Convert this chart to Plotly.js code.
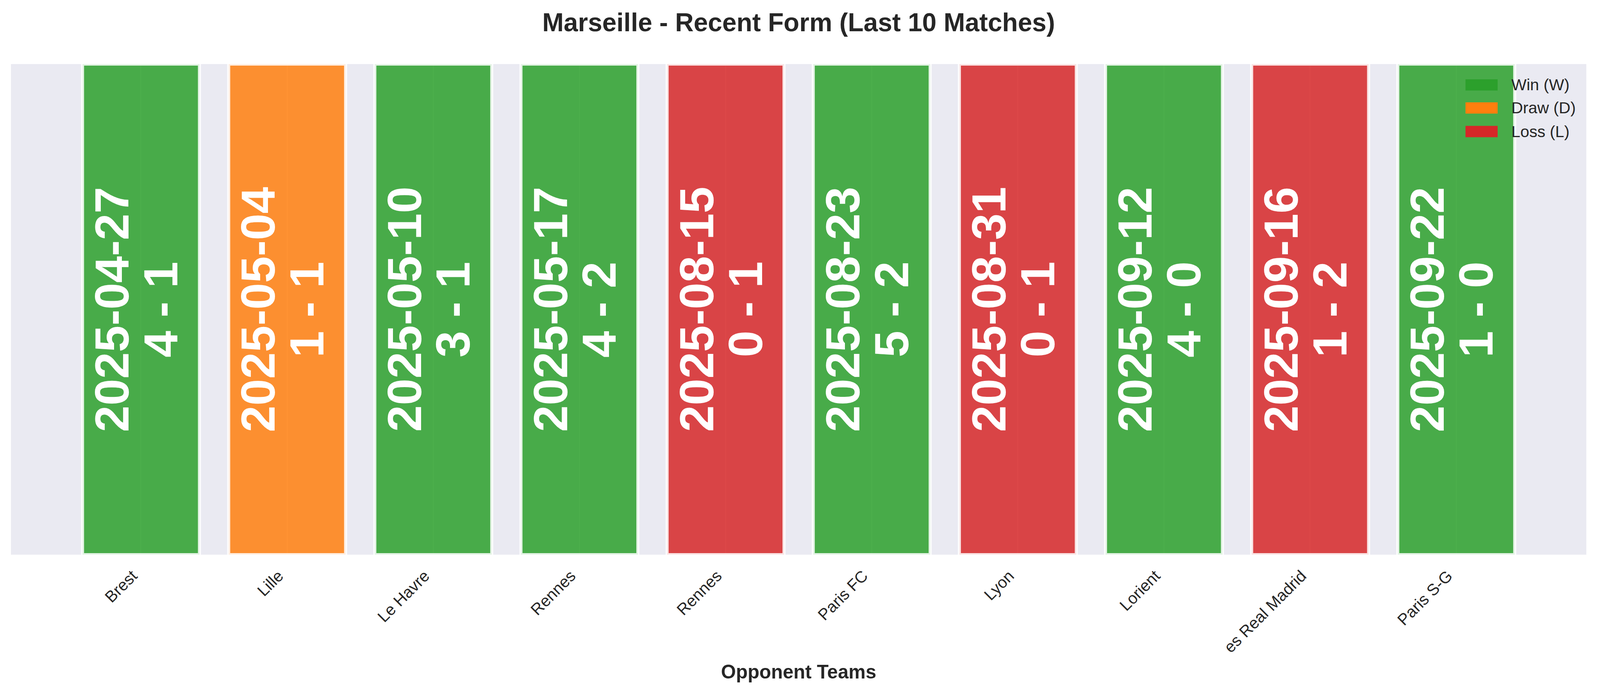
<!DOCTYPE html>
<html>
<head>
<meta charset="utf-8">
<script src="https://cdn.plot.ly/plotly-3.0.1.min.js"></script>
<style>
  html, body { margin: 0; padding: 0; background: #fff; overflow: hidden; }
  #plot { width: 100vw; height: 100vh; }
</style>
</head>
<body>
<div id="plot"></div>
<script>
"use strict";

// ── Data: Marseille's last ten matches, oldest first ──
const opponents = ["Brest", "Lille", "Le Havre", "Rennes", "Rennes",
                   "Paris FC", "Lyon", "Lorient", "es Real Madrid", "Paris S-G"];
const matchDates = ["2025-04-27", "2025-05-04", "2025-05-10", "2025-05-17", "2025-08-15",
                    "2025-08-23", "2025-08-31", "2025-09-12", "2025-09-16", "2025-09-22"];
const scores = ["4 - 1", "1 - 1", "3 - 1", "4 - 2", "0 - 1",
                "5 - 2", "0 - 1", "4 - 0", "1 - 2", "1 - 0"];
const results = ["W", "D", "W", "W", "L", "W", "L", "W", "L", "W"];
const barHeights = [1, 1, 1, 1, 1, 1, 1, 1, 1, 1];

const resultCodes = ["W", "D", "L"];
const resultNames = ["Win (W)", "Draw (D)", "Loss (L)"];

const RESULT_COLORS = { W: "#2ca02c", D: "#ff7f0e", L: "#d62728" };
const RESULT_FILL = { W: "rgba(44,160,44,0.85)", D: "rgba(255,127,14,0.85)", L: "rgba(214,39,40,0.85)" };

const FONT = "Liberation Sans, Arial, sans-serif";
const INK = "#262626";

// Designed for a 4170x1769 canvas; px sizes follow the real viewport
// (the headless window may be capped narrower than that).
const W = window.innerWidth || 4170;
const H = window.innerHeight || 1769;
const sx = W / 4170, sy = H / 1769, s = Math.min(sx, sy);

const xs = opponents.map((_, i) => i);
// Rotated labels hang so that their end sits a touch left of the bar
// centre, like matplotlib's ha="right"; nudge the label ticks to match.
const LABEL_NUDGE = 0.058;

const traces = [{
    type: "bar",
    x: xs, y: barHeights,
    width: 0.8,
    marker: {
        color: results.map(r => RESULT_FILL[r]),
        line: { color: "rgba(255,255,255,0.85)", width: 8 * s },
    },
    hoverinfo: "skip", showlegend: false,
}];

// ── In-bar labels: date on one line, score on the next, rotated ──
const annotations = [];
xs.forEach(i => {
    annotations.push({
        x: i, y: 0.5, xref: "x", yref: "y",
        text: matchDates[i], showarrow: false, textangle: -90,
        xshift: -76 * s,
        font: { family: FONT, size: 125 * s, color: "#ffffff", weight: "bold" },
    });
    annotations.push({
        x: i, y: 0.5, xref: "x", yref: "y",
        text: scores[i], showarrow: false, textangle: -90,
        xshift: 51 * s,
        font: { family: FONT, size: 125 * s, color: "#ffffff", weight: "bold" },
    });
});

// ── Legend, upper right inside the axes ──
const shapes = [];
const legendTop = [0.969, 0.922, 0.874];
resultCodes.forEach((code, k) => {
    shapes.push({
        type: "rect", xref: "paper", yref: "paper",
        x0: 0.9233, x1: 0.9437, y0: legendTop[k] - 0.023, y1: legendTop[k],
        fillcolor: RESULT_COLORS[code], line: { width: 0 },
    });
    annotations.push({
        xref: "paper", yref: "paper",
        x: 0.952, y: legendTop[k] - 0.0115,
        xanchor: "left", yanchor: "middle",
        text: resultNames[k], showarrow: false,
        font: { family: FONT, size: 42 * s, color: INK },
    });
});

const layout = {
    width: W, height: H,
    margin: { l: 29 * sx, r: 36 * sx, t: 164 * sy, b: 349 * sy, autoexpand: false },
    paper_bgcolor: "#ffffff",
    plot_bgcolor: "#eaeaf2",
    title: {
        text: "<b>Marseille - Recent Form (Last 10 Matches)</b>",
        x: 0.5, xanchor: "center", xref: "paper",
        y: 1 - 57 / 1769, yref: "container", yanchor: "middle",
        font: { family: FONT, size: 67 * s, color: INK },
    },
    xaxis: {
        range: [-0.89, 9.89],
        tickmode: "array",
        tickvals: xs.map(i => i - LABEL_NUDGE), ticktext: opponents,
        tickangle: -45,
        ticks: "outside", ticklen: 13 * s, tickcolor: "rgba(0,0,0,0)",
        tickfont: { family: FONT, size: 42 * s, color: INK },
        showgrid: false,
        // the white grid through each bar sits at the true bar centre
        minor: { tickmode: "array", tickvals: xs, ticks: "",
                 showgrid: true, gridcolor: "#ffffff", gridwidth: 3 * s },
        zeroline: false, showline: false,
        title: {
            text: "<b>Opponent Teams</b>",
            font: { family: FONT, size: 50 * s, color: INK },
            standoff: 24 * s,
        },
    },
    yaxis: {
        range: [0, 1],
        showticklabels: false, showgrid: false, zeroline: false,
        showline: false, ticks: "",
    },
    barmode: "overlay",
    showlegend: false,
    shapes: shapes,
    annotations: annotations,
};

Plotly.newPlot("plot", traces, layout, { displayModeBar: false, staticPlot: true });
</script>
</body>
</html>
